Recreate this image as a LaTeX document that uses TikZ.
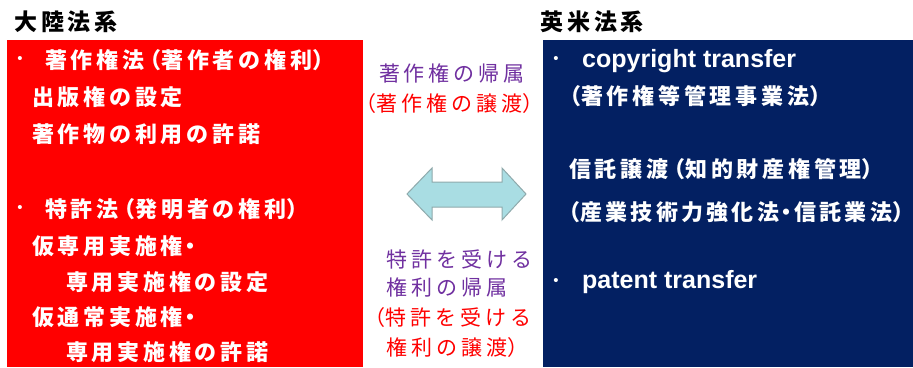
\documentclass[tikz,border=0pt]{standalone}
\usepackage{fontspec}
\newfontfamily\jpb[LetterSpace=17]{Noto Sans CJK JP}
\newfontfamily\jpbr[LetterSpace=15]{Noto Sans CJK JP}
\newfontfamily\jpm[LetterSpace=19]{Noto Sans CJK JP}
\newfontfamily\jpp[LetterSpace=15,RawFeature=+palt]{Noto Sans CJK JP}
\newfontfamily\jpe[RawFeature=+palt]{Noto Sans CJK JP}
\newfontfamily\jpt[LetterSpace=17]{Noto Sans CJK JP}
\newfontfamily\en{Liberation Sans}
\newcommand\lpn{\kern5pt{\jpp （}\kern1pt}
\newcommand\rpn{\kern1pt{\jpp ）}\kern4pt}
\newcommand\rpe{\kern1pt{\jpe ）}}
\newcommand\mdt{\kern2pt{\jpp ・}\kern2pt}
\definecolor{boxred}{HTML}{FF0000}
\definecolor{boxnavy}{HTML}{032062}
\definecolor{midpurple}{HTML}{7030A0}
\definecolor{arrfill}{HTML}{A9DDE3}
\definecolor{arredge}{HTML}{8FAAAC}
\tikzset{
  ttl/.style={inner sep=0pt, anchor=west, font=\jpt\bfseries\fontsize{23}{23}\selectfont, text=black},
  jw/.style={inner sep=0pt, anchor=west, font=\jpb\bfseries\fontsize{22}{22}\selectfont, text=white},
  enw/.style={inner sep=0pt, anchor=base west, font=\en\bfseries\fontsize{25}{25}\selectfont, text=white},
  bul/.style={inner sep=0pt, anchor=center, font=\en\fontsize{15}{15}\selectfont, text=white},
  midp/.style={inner sep=0pt, font=\jpm\fontsize{21}{21}\selectfont, text=midpurple},
  midr/.style={midp, text=boxred},
}
\begin{document}
\begin{tikzpicture}[x=1pt,y=-1pt]
\useasboundingbox (0,0) rectangle (913,367);
\fill[white] (0,0) rectangle (913,367);
% boxes
\fill[boxred] (7,40) rectangle (363,367);
\fill[boxnavy] (543,40) rectangle (913,367);
% titles
\node[ttl] (tl) at (14,22) {大陸法系};
\node[ttl] (tr) at (540,22) {英米法系};
% left box
\node[bul] (lb1) at (20,60) {•};
\node[jw] (l1) at (45,60) {著作権法\lpn 著作者の権利\rpn};
\node[jw] (l2) at (32,97) {出版権の設定};
\node[jw] (l3) at (32,134) {著作物の利用の許諾};
\node[bul] (lb2) at (20,209) {•};
\node[jw] (l4) at (45,209) {特許法\lpn 発明者の権利\rpn};
\node[jw] (l5) at (32,246) {仮専用実施権\mdt};
\node[jw] (l6) at (66,282) {専用実施権の設定};
\node[jw] (l7) at (32,317) {仮通常実施権\mdt};
\node[jw] (l8) at (66,352) {専用実施権の許諾};
% right box
\node[bul] (rb1) at (556,60) {•};
\node[enw] (r1) at (582,67) {copyright transfer};
\node[jw] (r2) at (564,96) {\lpn 著作権等管理事業法\rpn};
\node[jw] (r3) at (569,169) {信託譲渡\lpn 知的財産権管理\rpn};
\node[jw, font=\jpbr\bfseries\fontsize{22}{22}\selectfont] (r4) at (563,212) {\lpn 産業技術力強化法\mdt 信託業法{\jpe\rpe}};
\node[bul] (rb2) at (556,282) {•};
\node[enw] (r5) at (582,288) {patent transfer};
% middle
\node[midp] (m1) at (452,73) {著作権の帰属};
\node[midr] (m2) at (449,104) {\lpn 著作権の譲渡\rpn};
\node[midp, anchor=west] (m3) at (386,259) {特許を受ける};
\node[midp, anchor=west] (m4) at (386,287) {権利の帰属};
\node[midr, anchor=west] (m5) at (369,318) {\lpn 特許を受ける};
\node[midr, anchor=west] (m6) at (386,348) {権利の譲渡\rpn};
% double arrow
\filldraw[fill=arrfill, draw=arredge, line width=1pt, line join=miter]
  (407,194) -- (432,168) -- (432,182) -- (502,182) -- (502,168) -- (526,194)
  -- (502,220) -- (502,207) -- (432,207) -- (432,220) -- cycle;
\end{tikzpicture}
\end{document}
